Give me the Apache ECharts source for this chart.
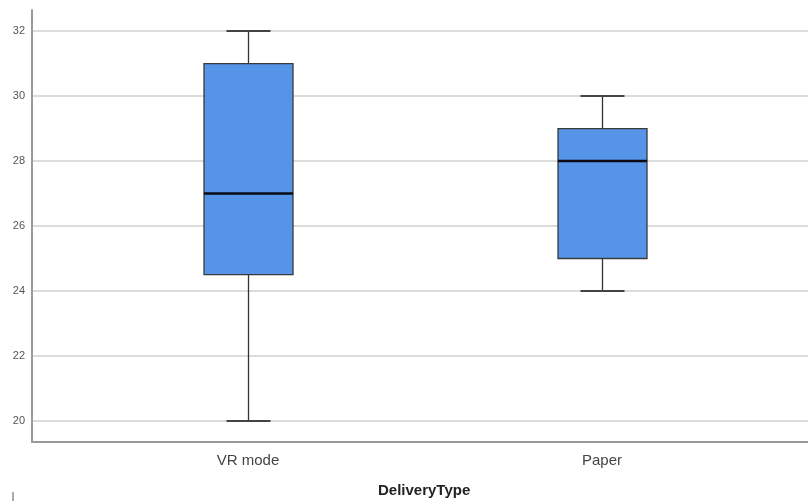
<!DOCTYPE html>
<html><head><meta charset="utf-8">
<script src="https://cdn.jsdelivr.net/npm/echarts@6/dist/echarts.min.js"></script>
<style>html,body{margin:0;padding:0;background:#fff}#c{width:808px;height:503px}</style>
</head><body><div id="c"></div>
<script>
const categories = ['VR mode', 'Paper'];
// [min, Q1, median, Q3, max]
const boxValues = [
  [20, 24.5, 27, 31, 32],
  [24, 25, 28, 29, 30]
];
const yMin = 19.35, yMax = 32.65;
const tickMin = 20, tickMax = 32, tickStep = 2;
const axisTitle = 'DeliveryType';

const chart = echarts.init(document.getElementById('c'), null, {renderer: 'canvas'});
const font = 'Liberation Sans, Arial, sans-serif';
const BOX_W = 89, CAP_W = 44;

function renderBox(params, api) {
  const i = api.value(0);
  const pMin = api.coord([i, api.value(1)]);
  const pQ1 = api.coord([i, api.value(2)]);
  const pMed = api.coord([i, api.value(3)]);
  const pQ3 = api.coord([i, api.value(4)]);
  const pMax = api.coord([i, api.value(5)]);
  const cx = Math.round(pMed[0]) + 0.5;
  const hb = BOX_W / 2, hc = CAP_W / 2;
  const wStyle = {stroke: '#333', lineWidth: 1.3};
  const capStyle = {stroke: '#444', lineWidth: 2};
  return {
    type: 'group',
    children: [
      {type: 'line', shape: {x1: cx, y1: pMax[1], x2: cx, y2: pQ3[1]}, style: wStyle},
      {type: 'line', shape: {x1: cx, y1: pQ1[1], x2: cx, y2: pMin[1]}, style: wStyle},
      {type: 'line', shape: {x1: cx - hc, y1: pMax[1], x2: cx + hc, y2: pMax[1]}, style: capStyle},
      {type: 'line', shape: {x1: cx - hc, y1: pMin[1], x2: cx + hc, y2: pMin[1]}, style: capStyle},
      {type: 'rect', shape: {x: cx - hb, y: pQ3[1], width: BOX_W, height: pQ1[1] - pQ3[1]},
       style: {fill: '#5594e6', stroke: '#3a3a3a', lineWidth: 1.3}},
      {type: 'line', shape: {x1: cx - hb, y1: pMed[1], x2: cx + hb, y2: pMed[1]},
       style: {stroke: '#0a0a14', lineWidth: 2.5}}
    ]
  };
}

chart.setOption({
  animation: false,
  backgroundColor: '#fff',
  title: {
    text: axisTitle, left: 378, top: 483, padding: 0,
    textStyle: {fontFamily: font, fontSize: 15, fontWeight: 'bold', color: '#222'}
  },
  grid: [
    {left: 32, right: 0, top: 31, bottom: 82},
    {left: 71, right: 29, top: 10, bottom: 61},
    {left: 32, right: 0, top: 10, bottom: 61}
  ],
  xAxis: [
    {gridIndex: 0, type: 'category', data: categories, show: false},
    {gridIndex: 1, type: 'category', data: categories,
     axisLine: {show: false}, axisTick: {show: false},
     axisLabel: {color: '#444', fontSize: 15, fontFamily: font, margin: 11},
     splitLine: {show: false}},
    {gridIndex: 2, type: 'category', data: categories,
     axisLine: {show: true, lineStyle: {color: '#9a9a9a', width: 2}},
     axisTick: {show: false}, axisLabel: {show: false}, splitLine: {show: false}}
  ],
  yAxis: [
    {gridIndex: 0, type: 'value', min: tickMin, max: tickMax, interval: tickStep,
     axisLine: {show: false}, axisTick: {show: false},
     axisLabel: {color: '#555', fontSize: 11, fontFamily: font, margin: 7},
     splitLine: {show: true, lineStyle: {color: '#dcdcdc', width: 2}}},
    {gridIndex: 1, type: 'value', min: yMin, max: yMax, show: false,
     splitLine: {show: false}},
    {gridIndex: 2, type: 'value', min: yMin, max: yMax,
     axisLine: {show: true, lineStyle: {color: '#9a9a9a', width: 2}},
     axisTick: {show: false}, axisLabel: {show: false}, splitLine: {show: false}}
  ],
  series: [
    {type: 'custom', xAxisIndex: 1, yAxisIndex: 1,
     data: boxValues.map((v, i) => [i].concat(v)),
     encode: {x: 0, y: [1, 2, 3, 4, 5]},
     renderItem: renderBox, z: 5, emphasis: {disabled: true}}
  ],
  graphic: [
    {type: 'line', shape: {x1: 13, y1: 492, x2: 13, y2: 501},
     style: {stroke: '#555', lineWidth: 1}}
  ]
});
</script></body></html>
